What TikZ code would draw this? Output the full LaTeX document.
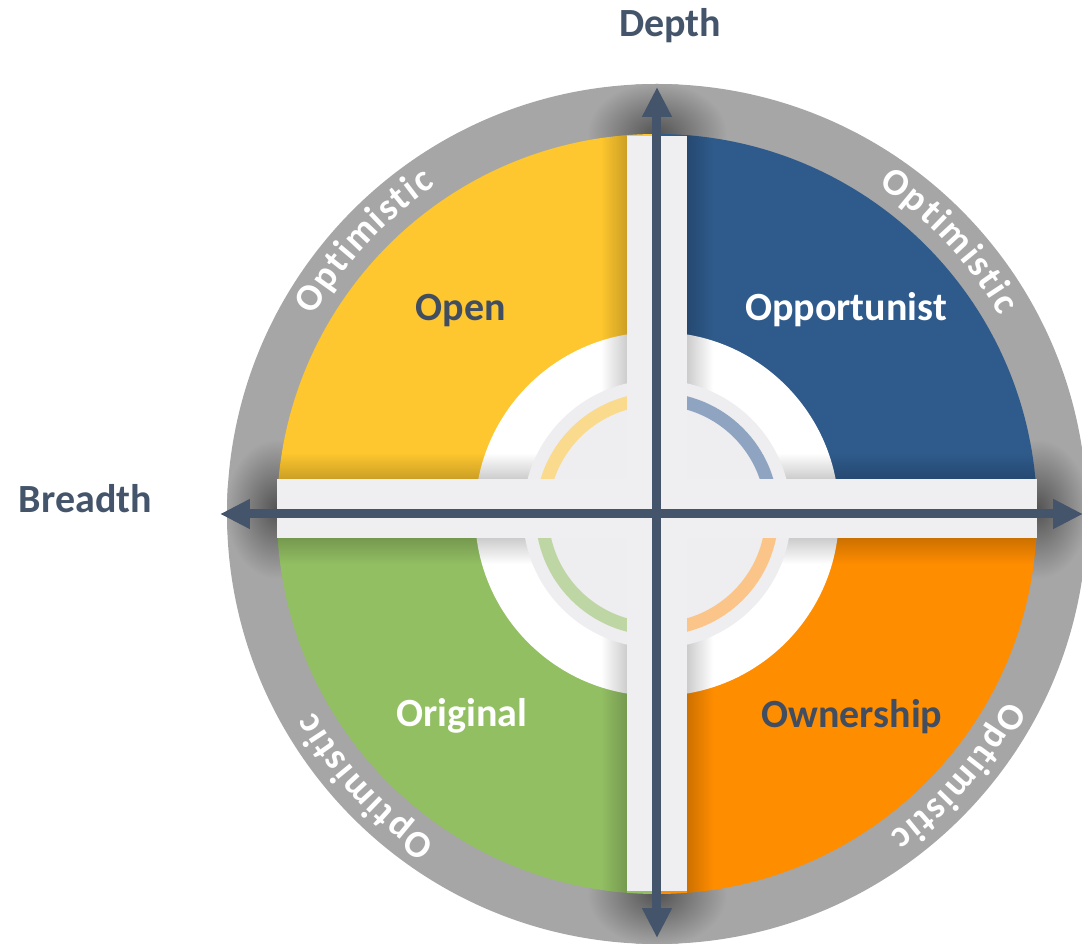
\documentclass[tikz,border=0pt]{standalone}
\usepackage{fontspec}
\setmainfont{Carlito}
\usetikzlibrary{arrows.meta,decorations.text,fadings}
\definecolor{ringgray}{HTML}{A6A6A6}
\definecolor{cyel}{HTML}{FEC72F}
\definecolor{cblue}{HTML}{2F5B8C}
\definecolor{cgreen}{HTML}{93BF63}
\definecolor{corange}{HTML}{FF8D00}
\definecolor{lyel}{HTML}{FADA8C}
\definecolor{lblue}{HTML}{8EA4C1}
\definecolor{lgreen}{HTML}{BED6A4}
\definecolor{lorange}{HTML}{FBC58A}
\definecolor{barc}{HTML}{EFEEF0}
\definecolor{diskc}{HTML}{EEEDEF}
\definecolor{slate}{HTML}{44546A}
\definecolor{darktext}{HTML}{414D60}
\tikzfading[name=toR, left color=transparent!100, right color=transparent!0]
\tikzfading[name=toL, left color=transparent!0, right color=transparent!100]
\tikzfading[name=toT, bottom color=transparent!100, top color=transparent!0]
\tikzfading[name=toB, top color=transparent!100, bottom color=transparent!0]
\newcommand{\labfont}{\fontsize{40}{48}\selectfont\bfseries}
\newcommand{\optfont}{\fontsize{38}{44}\selectfont\bfseries}
\tikzset{
  axisarrow/.style={draw=slate, line width=9pt,
    {Triangle[length=30pt,width=28pt]}-{Triangle[length=30pt,width=28pt]}},
  axislabel/.style={text=slate, font=\labfont, inner sep=0pt},
  quadlabel/.style={font=\labfont, inner sep=0pt, anchor=base},
  innerarc/.style={line width=13pt},
  shadowstrip/.style={fill=black, opacity=0.2},
  endshadow/.style={inner color=black!50!ringgray, outer color=ringgray},
  ringtext/.style={decorate, decoration={text along path,
    text={|\optfont\color{white}|Optimistic}, text align={fit to path}}}
}
\begin{document}
\begin{tikzpicture}[x=1pt,y=1pt]
\useasboundingbox (-657,-430) rectangle (425,514);
% outer gray ring
\fill[ringgray] (0,0) circle (430);
% shadows where the bars meet the ring
\begin{scope}
  \clip (0,0) circle (430);
  \shade[endshadow] (0,380) ellipse (70 and 52);
  \shade[endshadow] (0,-380) ellipse (70 and 52);
  \shade[endshadow] (-380,5) ellipse (52 and 70);
  \shade[endshadow] (380,5) ellipse (52 and 70);
\end{scope}
% quadrants
\fill[cyel] (0,0) -- (180:380) arc[start angle=180, end angle=90, radius=380] -- cycle;
\fill[cblue] (0,0) -- (90:380) arc[start angle=90, end angle=0, radius=380] -- cycle;
\fill[corange] (0,0) -- (0:380) arc[start angle=0, end angle=-90, radius=380] -- cycle;
\fill[cgreen] (0,0) -- (-90:380) arc[start angle=-90, end angle=-180, radius=380] -- cycle;
% white ring
\fill[white] (0,0) circle (182);
% shadows along the bars
\begin{scope}
  \clip (0,0) circle (380);
  \fill[shadowstrip, path fading=toR] (-56,35) rectangle (-30,380);
  \fill[shadowstrip, path fading=toL] (30,35) rectangle (56,380);
  \fill[shadowstrip, path fading=toR] (-56,-380) rectangle (-30,-24);
  \fill[shadowstrip, path fading=toL] (30,-380) rectangle (56,-24);
  \fill[shadowstrip, path fading=toB] (-380,35) rectangle (-30,61);
  \fill[shadowstrip, path fading=toB] (30,35) rectangle (380,61);
  \fill[shadowstrip, path fading=toT] (-380,-50) rectangle (-30,-24);
  \fill[shadowstrip, path fading=toT] (30,-50) rectangle (380,-24);
\end{scope}
% inner disk
\fill[diskc] (0,0) circle (134);
% inner coloured arcs
\draw[innerarc, lyel] (180:115) arc[start angle=180, end angle=90, radius=115];
\draw[innerarc, lblue] (90:115) arc[start angle=90, end angle=0, radius=115];
\draw[innerarc, lorange] (0:115) arc[start angle=0, end angle=-90, radius=115];
\draw[innerarc, lgreen] (-90:115) arc[start angle=-90, end angle=-180, radius=115];
% bars
\fill[barc] (-30,-377) rectangle (30,378);
\fill[barc] (-380,-24) rectangle (380,35);
% axes
\coordinate (top) at (0,427);
\coordinate (bottom) at (0,-424);
\coordinate (left) at (-437,0);
\coordinate (right) at (426,0);
\draw[axisarrow] (bottom) -- (top);
\draw[axisarrow] (left) -- (right);
% axis labels
\node[axislabel, anchor=base] (depth) at (13,477) {Depth};
\node[axislabel, anchor=base east] (breadth) at (-505,1) {Breadth};
% quadrant labels
\node[quadlabel, text=darktext] (open) at (-196,193) {Open};
\node[quadlabel, text=white] (opportunist) at (189,193) {Opportunist};
\node[quadlabel, text=white] (original) at (-195,-213) {Original};
\node[quadlabel, text=darktext] (ownership) at (195,-214) {Ownership};
% ring texts
\path[ringtext] (150:396) arc[start angle=150, end angle=124, radius=396];
\path[ringtext] (56:396) arc[start angle=56, end angle=30, radius=396];
\path[ringtext] (-28:396) arc[start angle=-28, end angle=-54, radius=396];
\path[ringtext] (-124:396) arc[start angle=-124, end angle=-150, radius=396];
\end{tikzpicture}
\end{document}
